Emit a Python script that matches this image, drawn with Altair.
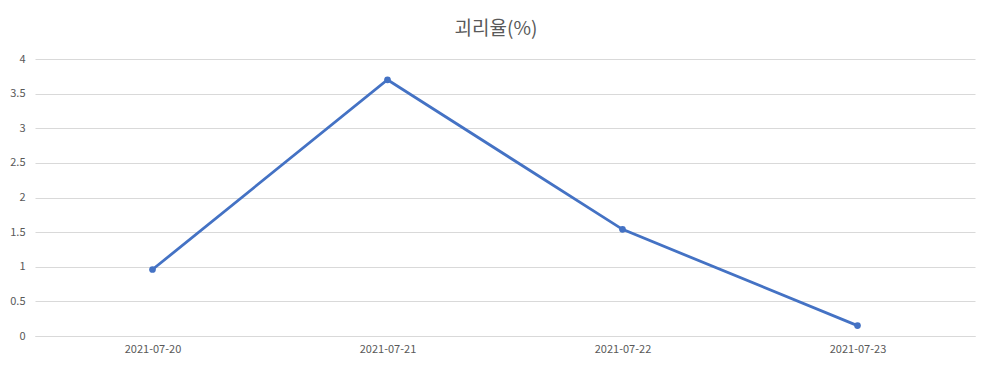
import altair as alt
import pandas as pd

dates = ["2021-07-20", "2021-07-21", "2021-07-22", "2021-07-23"]
values = [0.96, 3.70, 1.54, 0.15]
y_ticks = [0, 0.5, 1, 1.5, 2, 2.5, 3, 3.5, 4]

df = pd.DataFrame({"date": dates, "value": values})

GRAY_TXT = "#595959"
GRID = "#d9d9d9"
BLUE = "#4472C4"
FONT = "Noto Sans CJK KR"

chart = (
    alt.Chart(df)
    .mark_line(
        color=BLUE,
        strokeWidth=2.8,
        point=alt.OverlayMarkDef(filled=True, size=45, color=BLUE, opacity=1),
    )
    .encode(
        x=alt.X(
            "date:N",
            sort=None,
            scale=alt.Scale(type="point", padding=0.5),
            axis=alt.Axis(
                title=None,
                labelAngle=0,
                ticks=False,
                grid=False,
                domainColor=GRID,
                labelColor=GRAY_TXT,
                labelFont=FONT,
                labelFontSize=11,
                labelPadding=7,
            ),
        ),
        y=alt.Y(
            "value:Q",
            scale=alt.Scale(domain=[0, 4], nice=False, zero=True),
            axis=alt.Axis(
                title=None,
                values=y_ticks,
                format="~g",
                domain=False,
                ticks=False,
                grid=True,
                gridColor=GRID,
                gridWidth=1,
                labelColor=GRAY_TXT,
                labelFont=FONT,
                labelFontSize=11,
                labelPadding=10,
            ),
        ),
    )
    .properties(
        width=940,
        height=277,
        autosize=alt.AutoSizeParams(type="none"),
        padding={"left": 27, "top": 51, "right": 5, "bottom": 22},
        title=alt.TitleParams(
            "괴리율(%)",
            fontSize=19,
            font=FONT,
            fontWeight="normal",
            color=GRAY_TXT,
            anchor="middle",
            offset=14,
            dx=-9,
        ),
        background="white",
    )
    .configure_view(stroke=None)
)

chart.save("out.html", embed_options={"renderer": "svg", "actions": False})
